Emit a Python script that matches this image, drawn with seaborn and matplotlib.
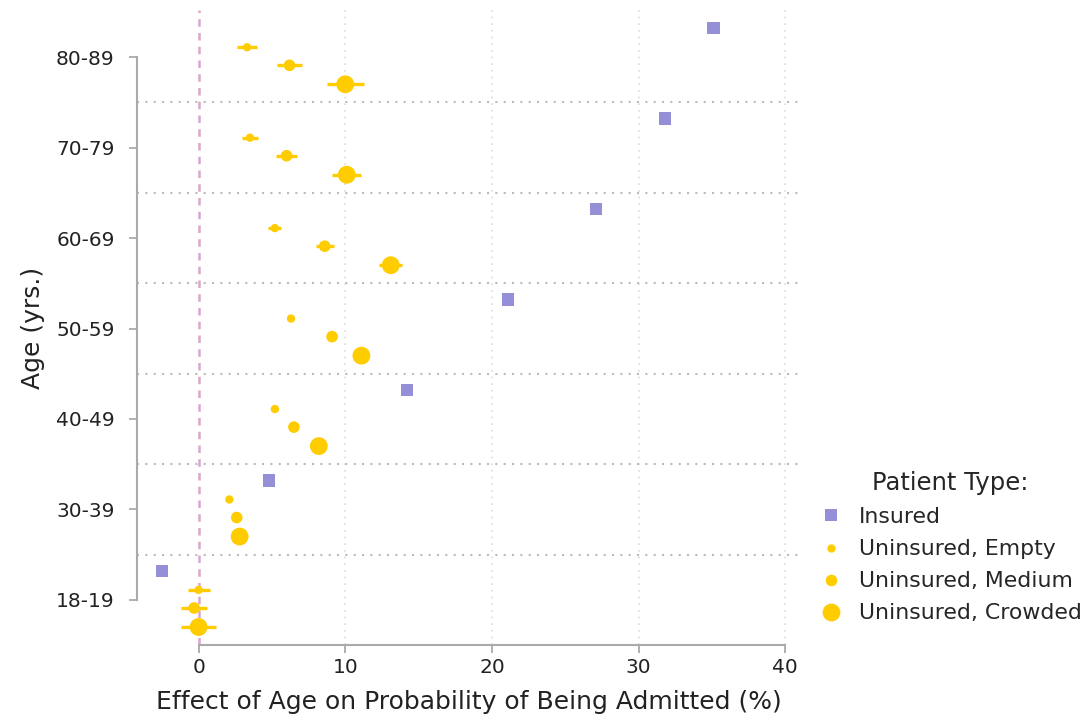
import matplotlib
matplotlib.use("Agg")
import matplotlib.pyplot as plt
import seaborn as sns
import numpy as np
import pandas as pd

age_groups = ["18-19", "30-39", "40-49", "50-59", "60-69", "70-79", "80-89"]
patient_types = ["Insured", "Uninsured, Empty", "Uninsured, Medium", "Uninsured, Crowded"]

insured = [-2.5, 4.8, 14.2, 21.1, 27.1, 31.8, 35.1]
unins_empty = [0.0, 2.1, 5.2, 6.3, 5.2, 3.5, 3.3]
unins_medium = [-0.3, 2.6, 6.5, 9.1, 8.6, 6.0, 6.2]
unins_crowded = [0.0, 2.8, 8.2, 11.1, 13.1, 10.1, 10.0]

err_insured = [0.0, 0.0, 0.0, 0.0, 0.0, 0.0, 0.0]
err_empty = [0.75, 0.2, 0.2, 0.2, 0.45, 0.55, 0.65]
err_medium = [0.9, 0.2, 0.2, 0.2, 0.6, 0.7, 0.85]
err_crowded = [1.2, 0.2, 0.2, 0.2, 0.8, 1.0, 1.25]

# vertical dodge within each age group (style)
offsets = {"Insured": 0.32, "Uninsured, Empty": 0.11,
           "Uninsured, Medium": -0.09, "Uninsured, Crowded": -0.30}

rows = []
for vals, errs, t in [(insured, err_insured, patient_types[0]),
                      (unins_empty, err_empty, patient_types[1]),
                      (unins_medium, err_medium, patient_types[2]),
                      (unins_crowded, err_crowded, patient_types[3])]:
    for i, (v, e) in enumerate(zip(vals, errs)):
        rows.append({"age": age_groups[i], "pos": i + offsets[t],
                     "effect": v, "err": e, "type": t})
df = pd.DataFrame(rows)

purple = "#948fd6"
gold = "#ffcc00"

sns.set_style("white")
plt.rcParams["font.family"] = ["DejaVu Sans"]

fig = plt.figure(figsize=(10.87, 7.24), dpi=100)
ax = fig.add_axes([0.126, 0.109, 0.61, 0.877])

# grid / reference lines
for xv in [10, 20, 30, 40]:
    ax.axvline(xv, color="#dddddd", lw=1.2, ls=(0, (1, 3)), zorder=0)
for i in range(len(age_groups) - 1):
    ax.axhline(i + 0.5, color="#bbbbbb", lw=1.5, ls=(0, (1, 3)), zorder=0)
ax.axvline(0, color="#dba6cc", lw=1.8, ls=(0, (3, 2.5)), zorder=1)

unins = df[df["type"] != "Insured"]
ax.errorbar(unins["effect"], unins["pos"], xerr=unins["err"], fmt="none",
            ecolor=gold, elinewidth=2.4, capsize=0, zorder=2)

sns.scatterplot(data=df, x="effect", y="pos", hue="type", style="type", size="type",
                hue_order=patient_types, style_order=patient_types, size_order=patient_types,
                palette={patient_types[0]: purple, patient_types[1]: gold,
                         patient_types[2]: gold, patient_types[3]: gold},
                markers={patient_types[0]: "s", patient_types[1]: "o",
                         patient_types[2]: "o", patient_types[3]: "o"},
                sizes={patient_types[0]: 80, patient_types[1]: 36,
                       patient_types[2]: 70, patient_types[3]: 165},
                linewidth=0, ax=ax, zorder=3)

ax.set_xlim(-4.2, 41)
ax.set_ylim(-0.5, 6.52)
ax.set_xticks([0, 10, 20, 30, 40])
ax.set_yticks(range(len(age_groups)))
ax.set_yticklabels(age_groups)
ax.set_xlabel("Effect of Age on Probability of Being Admitted (%)", fontsize=18, color="#222222", labelpad=9)
ax.set_ylabel("Age (yrs.)", fontsize=18, color="#222222", labelpad=8)
ax.tick_params(axis="both", labelsize=14.5, colors="#aaaaaa", labelcolor="#222222",
               length=6, width=1.3, direction="out", left=True, bottom=True)
ax.tick_params(axis="y", pad=10)

sns.despine(ax=ax, trim=True)
for s in ["left", "bottom"]:
    ax.spines[s].set_color("#aaaaaa")
    ax.spines[s].set_linewidth(1.5)

sns.move_legend(ax, "lower left", bbox_to_anchor=(1.004, 0.01), title="Patient Type:",
                frameon=False, fontsize=15.8, title_fontsize=17.5, labelspacing=0.55,
                handlelength=1.2, handletextpad=0.65, borderaxespad=0.3)

fig.savefig("out.png", dpi=100)
